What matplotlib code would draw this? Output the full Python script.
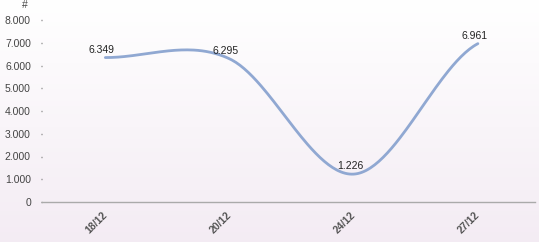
import numpy as np
import matplotlib
matplotlib.use("Agg")
from matplotlib import pyplot as plt
from matplotlib.ticker import FuncFormatter

plt.rcParams["font.family"] = ["Liberation Sans", "DejaVu Sans"]

# Data
dates = ["18/12", "20/12", "24/12", "27/12"]
values = [6349, 6295, 1226, 6961]
yticks = [0, 1000, 2000, 3000, 4000, 5000, 6000, 7000, 8000]


def fmt(v):
    return f"{int(v):,}".replace(",", ".")


def catmull_rom(xs, ys, n=60):
    # smooth curve through the points (cardinal spline)
    px = np.concatenate([[2 * xs[0] - xs[1]], xs, [2 * xs[-1] - xs[-2]]])
    py = np.concatenate([[ys[0]], ys, [ys[-1]]])
    ox, oy = [], []
    for i in range(1, len(px) - 2):
        t = np.linspace(0, 1, n)
        for p, out in ((px, ox), (py, oy)):
            p0, p1, p2, p3 = p[i - 1], p[i], p[i + 1], p[i + 2]
            out.extend(0.5 * ((2 * p1) + (-p0 + p2) * t
                              + (2 * p0 - 5 * p1 + 4 * p2 - p3) * t ** 2
                              + (-p0 + 3 * p1 - 3 * p2 + p3) * t ** 3))
    return np.array(ox), np.array(oy)


fig = plt.figure(figsize=(5.39, 2.42), dpi=100)

# background gradient white -> light pink
bg = fig.add_axes([0, 0, 1, 1], zorder=-1)
grad = np.linspace(0, 1, 256).reshape(-1, 1)
top = np.array([1.0, 1.0, 1.0])
bot = np.array([0.955, 0.925, 0.955])
img = top + (bot - top) * grad[..., None]
bg.imshow(img, aspect="auto", extent=[0, 1, 0, 1], origin="upper")
bg.axis("off")

ax = fig.add_axes([42 / 539, 1 - 202 / 242, 493 / 539, 182 / 242])
ax.patch.set_alpha(0)

x = np.arange(len(dates), dtype=float)
sx, sy = catmull_rom(x, np.array(values, dtype=float))
ax.plot(sx, sy, color="#90a8d2", lw=2, solid_capstyle="round")

for xi, v in zip(x, values):
    ax.text(xi - 0.03, v + 120, fmt(v), ha="center", va="bottom", fontsize=7.5, color="#222222")

ax.set_xlim(-0.51, 3.46)
ax.set_ylim(0, 8000)
ax.set_yticks(yticks)
ax.yaxis.set_major_formatter(FuncFormatter(lambda v, p: fmt(v)))
ax.set_xticks(x)
ax.set_xticklabels(dates, rotation=45, ha="right", va="center", rotation_mode="anchor",
                   fontsize=7.5, fontweight="bold", color="#555555")

for s in ["top", "right", "left"]:
    ax.spines[s].set_visible(False)
ax.spines["bottom"].set_color("#aaaaaa")
ax.spines["bottom"].set_linewidth(1)

ax.tick_params(axis="y", length=1, width=1, color="#777777", labelsize=7.5,
               labelcolor="#444444", pad=7)
ax.tick_params(axis="x", length=0, pad=8)
ax.text(-0.03, 1.08, "#", transform=ax.transAxes, fontsize=7.5, color="#444444",
        ha="right", va="center")

fig.savefig("out.png", dpi=100)
